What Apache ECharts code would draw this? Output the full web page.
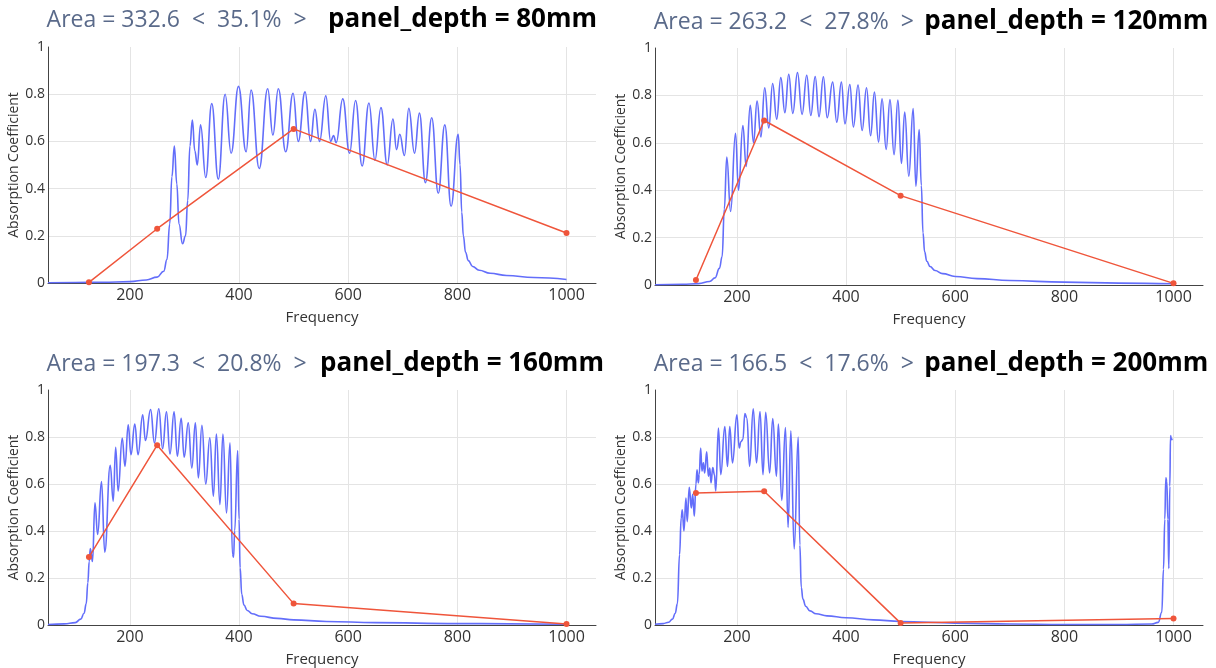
<!DOCTYPE html>
<html>
<head>
<meta charset="utf-8">
<script src="https://cdn.jsdelivr.net/npm/echarts@6/dist/echarts.min.js"></script>
<style>
  html, body { margin: 0; padding: 0; background: #fff; }
  #chart { width: 1216px; height: 668px; }
</style>
</head>
<body>
<div id="chart"></div>
<script>
// Octave-band centre frequencies (Hz) and tick values
const bandFreqs = [125, 250, 500, 1000];
const xTicks = [200, 400, 600, 800, 1000];
const yTicks = [0, 0.2, 0.4, 0.6, 0.8, 1];

// Panel headings
const depthLabels = ['80mm', '120mm', '160mm', '200mm'];
const areaValues = ['332.6', '263.2', '197.3', '166.5'];
const areaPercents = ['35.1%', '27.8%', '20.8%', '17.6%'];

// Band-averaged absorption at 125/250/500/1000 Hz
const band80 = [0.003, 0.23, 0.653, 0.212];
const band120 = [0.021, 0.694, 0.377, 0.007];
const band160 = [0.289, 0.765, 0.091, 0.004];
const band200 = [0.562, 0.569, 0.008, 0.028];

// Narrow-band absorption spectra [frequency, alpha]
const curve80 = [[50,0.001],[100,0.002],[150,0.003],[200,0.006],[230,0.013],[250,0.025],[262,0.05],[268,0.1],[273,0.25],[277,0.45],[281.5,0.58],[286,0.42],[290,0.25],[296.5,0.166],[302,0.2],[306,0.35],[310,0.58],[314.5,0.69],[319,0.56],[323.5,0.50],[329.5,0.67],[339,0.447],[350,0.76],[362,0.44],[374.5,0.80],[385.5,0.55],[399,0.833],[413,0.556],[422,0.818],[437,0.485],[452.5,0.823],[462,0.627],[472,0.823],[485.5,0.556],[499,0.804],[508.5,0.60],[521,0.81],[531,0.60],[539,0.736],[547.5,0.60],[559,0.793],[568,0.60],[573,0.625],[578,0.595],[590,0.78],[602.5,0.55],[613.5,0.773],[625.5,0.496],[638,0.763],[649,0.52],[660,0.743],[671.5,0.50],[682,0.695],[688.5,0.565],[694.5,0.63],[703,0.54],[711,0.74],[721.5,0.55],[730.5,0.72],[741.5,0.425],[753,0.70],[765,0.38],[777,0.67],[788.5,0.325],[801.5,0.63],[805,0.5],[808,0.3],[811,0.2],[815,0.13],[820,0.095],[828,0.07],[840,0.054],[860,0.041],[890,0.032],[940,0.023],[1000,0.015]];

const curve120 = [[50,0.001],[100,0.003],[130,0.006],[150,0.015],[160,0.03],[168,0.07],[173,0.12],[177,0.32],[181.5,0.54],[188.5,0.31],[197.5,0.64],[203,0.40],[211,0.673],[217,0.50],[224.5,0.758],[230.5,0.60],[237,0.776],[244,0.625],[251,0.832],[258.5,0.663],[265.5,0.85],[273,0.70],[280.5,0.875],[288,0.727],[295,0.889],[302.5,0.724],[311,0.896],[319.5,0.72],[328,0.885],[335.5,0.715],[343.5,0.88],[350.5,0.71],[358.5,0.879],[365.5,0.706],[375.5,0.856],[383,0.687],[391.5,0.856],[398,0.68],[407,0.846],[413.5,0.667],[422,0.844],[429.5,0.652],[437.5,0.832],[445,0.63],[452,0.814],[459.5,0.603],[466,0.786],[473.5,0.572],[480.5,0.783],[488,0.55],[495,0.78],[501.5,0.513],[507.5,0.73],[515,0.459],[523,0.744],[528,0.417],[534,0.656],[538,0.42],[541,0.22],[544,0.14],[548,0.1],[554,0.078],[563,0.061],[577,0.048],[600,0.036],[640,0.027],[700,0.019],[800,0.012],[900,0.008],[1000,0.005]];

const curve160 = [[50,0.002],[80,0.005],[100,0.01],[110,0.025],[116,0.05],[120,0.09],[123,0.18],[125.5,0.27],[127.5,0.325],[131.5,0.27],[136,0.52],[141,0.385],[148,0.61],[154,0.31],[164,0.68],[169.5,0.527],[174,0.756],[178.5,0.57],[186,0.796],[191,0.675],[197,0.852],[202,0.725],[209,0.855],[215,0.725],[223.5,0.895],[228.5,0.785],[238,0.917],[245,0.775],[253,0.92],[260,0.75],[267,0.907],[273.5,0.728],[281,0.907],[287,0.718],[294,0.88],[299.5,0.714],[307,0.86],[313.5,0.668],[320,0.86],[325.5,0.626],[332,0.85],[339,0.6],[346.5,0.797],[353,0.548],[358.5,0.813],[365,0.512],[370.5,0.813],[377,0.477],[383.5,0.775],[388,0.30],[390,0.289],[392,0.4],[397.5,0.742],[400,0.45],[402,0.243],[405,0.13],[409,0.085],[415,0.062],[424,0.048],[440,0.037],[470,0.028],[500,0.022],[560,0.015],[650,0.01],[800,0.006],[1000,0.003]];

const curve200 = [[50,0.003],[65,0.006],[75,0.012],[82,0.025],[87,0.05],[91,0.09],[95,0.30],[98,0.456],[100,0.49],[103,0.40],[106.7,0.54],[109,0.44],[112.8,0.586],[116.5,0.498],[119,0.556],[122,0.463],[125,0.60],[127,0.66],[129.4,0.605],[131,0.64],[133.7,0.753],[136,0.655],[138.6,0.69],[141,0.647],[144.7,0.737],[147.8,0.633],[150.3,0.668],[152.7,0.605],[155.8,0.67],[158.9,0.64],[161.3,0.57],[166.2,0.838],[170.5,0.64],[177.9,0.845],[182.8,0.675],[187,0.845],[192,0.69],[200,0.894],[204.3,0.753],[207.4,0.78],[211,0.789],[214.7,0.90],[218.4,0.88],[223.3,0.675],[230,0.92],[236,0.69],[242.4,0.908],[247.9,0.64],[252.8,0.905],[260,0.647],[265.7,0.878],[272.5,0.633],[276,0.855],[282.3,0.53],[289,0.84],[293.8,0.415],[298.9,0.826],[305,0.324],[312.4,0.80],[315.4,0.34],[318,0.16],[321,0.11],[326,0.08],[334,0.06],[345,0.048],[365,0.039],[400,0.031],[450,0.022],[500,0.015],[600,0.008],[700,0.004],[800,0.002],[900,0.002],[960,0.004],[972,0.011],[978.5,0.054],[981.6,0.237],[984,0.45],[985.9,0.626],[987.7,0.612],[989.6,0.45],[991.4,0.24],[993.2,0.59],[994.5,0.806],[995.7,0.796],[997.5,0.786]];

const curves = [curve80, curve120, curve160, curve200];
const bands = [band80, band120, band160, band200];

// Layout of the four panels (pixels)
const grids = [
  { left: 48,  top: 47,  width: 548, height: 236 },
  { left: 655, top: 48,  width: 548, height: 237 },
  { left: 48,  top: 390, width: 548, height: 237 },
  { left: 655, top: 390, width: 548, height: 237 }
];
// heading baselines and start positions
const headingBase = [26.8, 29.4, 370.8, 371.5];
const areaX = [46.6, 653.8, 46.6, 653.8];
const depthX = [328, 924.3, 320, 924.3];

const FONT = '"Open Sans", "Noto Sans", sans-serif';
const BLUE = '#636efa';
const RED = '#ef553b';
const AREA_FS = 23;
const DEPTH_FS = 26;

const chart = echarts.init(document.getElementById('chart'), null, { renderer: 'canvas' });

const xAxes = grids.map((g, i) => ({
  type: 'value', gridIndex: i, min: 50, max: 1054,
  axisLine: { show: true, onZero: false, lineStyle: { color: '#444', width: 1 } },
  axisTick: { show: false, customValues: xTicks },
  axisLabel: { customValues: xTicks, color: '#333', fontSize: 16, fontFamily: FONT, margin: 4,
    formatter: v => String(v) },
  splitLine: { show: true, lineStyle: { color: '#e4e4e4', width: 1 } },
  name: 'Frequency', nameLocation: 'middle', nameGap: 27,
  nameTextStyle: { color: '#333', fontSize: 15, fontFamily: FONT }
}));

const yAxes = grids.map((g, i) => ({
  type: 'value', gridIndex: i, min: yTicks[0], max: yTicks[yTicks.length - 1], interval: 0.2,
  axisLine: { show: true, onZero: false, lineStyle: { color: '#444', width: 1 } },
  axisTick: { show: false },
  axisLabel: { color: '#333', fontSize: 14, fontFamily: FONT, margin: 3,
    formatter: v => (v === 0 || v === 1) ? String(v) : v.toFixed(1) },
  splitLine: { show: true, lineStyle: { color: ['#e4e4e4', '#e4e4e4', '#e4e4e4', '#e4e4e4', '#e4e4e4', 'rgba(0,0,0,0)'], width: 1 } },
  name: 'Absorption Coefficient', nameLocation: 'middle', nameGap: 27,
  nameTextStyle: { color: '#333', fontSize: 14, fontFamily: FONT }
}));

const series = [];
curves.forEach((c, i) => {
  series.push({
    type: 'line', xAxisIndex: i, yAxisIndex: i, data: c,
    showSymbol: false, smooth: 0.45, smoothMonotone: 'x',
    lineStyle: { color: BLUE, width: 1.6 }, itemStyle: { color: BLUE },
    silent: true, animation: false, z: 2
  });
  series.push({
    type: 'line', xAxisIndex: i, yAxisIndex: i,
    data: bandFreqs.map((f, k) => [f, bands[i][k]]),
    symbol: 'circle', symbolSize: 6, showSymbol: true,
    lineStyle: { color: RED, width: 1.5 }, itemStyle: { color: RED },
    silent: true, animation: false, z: 3
  });
});

// headings: 'middle' alignment sits the baseline about 0.285em below y
const graphics = [];
grids.forEach((g, i) => {
  graphics.push({
    type: 'text', x: areaX[i], y: headingBase[i] - 0.285 * AREA_FS,
    style: { text: 'Area = ' + areaValues[i] + '  <  ' + areaPercents[i] + '  >',
      font: AREA_FS + 'px ' + FONT, fill: '#5a6a8a', verticalAlign: 'middle', align: 'left' }
  });
  graphics.push({
    type: 'text', x: depthX[i], y: headingBase[i] - 0.285 * DEPTH_FS,
    style: { text: 'panel_depth = ' + depthLabels[i],
      font: 'bold ' + DEPTH_FS + 'px ' + FONT, fill: '#000', verticalAlign: 'middle', align: 'left' }
  });
});

chart.setOption({
  animation: false,
  backgroundColor: '#fff',
  grid: grids.map(g => Object.assign({ containLabel: false }, g)),
  xAxis: xAxes,
  yAxis: yAxes,
  series: series,
  graphic: graphics
});
</script>
</body>
</html>
